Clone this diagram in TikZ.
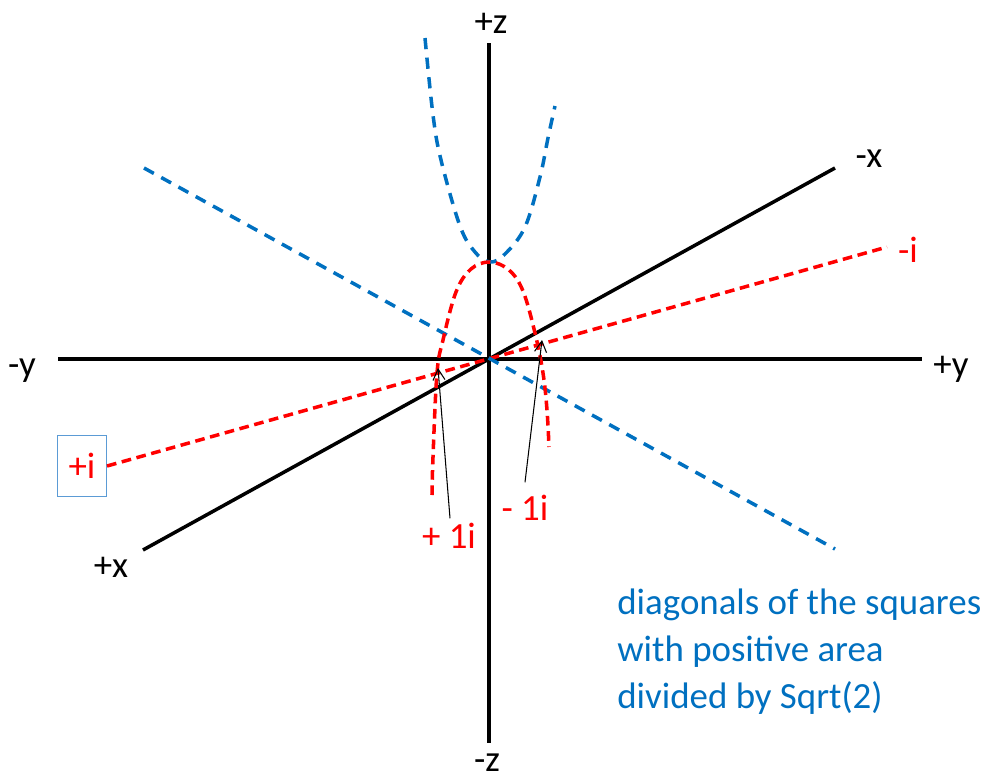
\documentclass[tikz,border=0pt]{standalone}
\usepackage{fontspec}
\setmainfont{Carlito}
\usetikzlibrary{arrows.meta}
\definecolor{imagred}{RGB}{255,0,0}
\definecolor{diagblue}{RGB}{0,112,192}
\definecolor{boxblue}{RGB}{91,155,213}
\tikzset{
  axis/.style={line width=2pt,draw=black},
  imagline/.style={line width=2pt,draw=imagred,dash pattern=on 5.5pt off 3.2pt},
  diagline/.style={line width=2pt,draw=diagblue,dash pattern=on 6.4pt off 4.8pt},
  pointer/.style={-{Straight Barb[length=2.2mm,width=2.4mm]},line width=0.6pt,draw=black},
  axlabel/.style={font=\fontsize{21}{25}\selectfont,inner sep=0pt,anchor=base},
  redlabel/.style={axlabel,text=imagred}
}
\begin{document}
\begin{tikzpicture}[x=0.02cm,y=-0.02cm]
  \useasboundingbox (0,0) rectangle (981,781);
  % axis ends
  \coordinate (O) at (489,359);
  \coordinate (zp) at (489,43);
  \coordinate (zm) at (489,743);
  \coordinate (ym) at (58,359);
  \coordinate (yp) at (922,359);
  \coordinate (xp) at (143,550);
  \coordinate (xm) at (835,168);
  \coordinate (im) at (887,247);
  \coordinate (dtop) at (144,168);
  \coordinate (dbot) at (835,549);

  \node[axlabel] (zplabel) at (491,33) {+z};
  \node[axlabel] (zmlabel) at (487,771) {-z};
  \node[axlabel] (ymlabel) at (22,376) {-y};
  \node[axlabel] (yplabel) at (951,376) {+y};
  \node[axlabel] (xplabel) at (111,577) {+x};
  \node[axlabel] (xmlabel) at (869,167) {-x};
  \node[redlabel] (imlabel) at (908,262) {-i};
  \node[redlabel,anchor=center,draw=boxblue,line width=0.6pt,minimum width=0.98cm,
    minimum height=1.22cm] (ipbox) at (82,466) {+i};
  \node[redlabel] (onep) at (449,548) {+ 1i};
  \node[redlabel] (onem) at (525,520) {- 1i};
  \node[axlabel,anchor=base west,align=left,text=diagblue,
    font=\fontsize{21}{26.5}\selectfont] (note) at (617,708)
    {diagonals of the squares\\with positive area\\divided by Sqrt(2)};

  \draw[axis] (zp) -- (zm);
  \draw[axis] (ym) -- (yp);
  \draw[axis] (xp) -- (xm);
  \draw[imagline] (ipbox.east|-0,466) -- (im);
  \draw[diagline] (dtop) -- (dbot);

  % curves
  \draw[diagline] plot[smooth,tension=0.6] coordinates {(425,38) (433,115) (441,160)
    (460,226) (475,252) (490,262) (505,254) (525,227) (540,177) (548,138) (555,106)};
  \draw[imagline] plot[smooth,tension=0.6] coordinates {(432,495) (433,457) (437,373)
    (443,340) (456,292) (471,269) (490,262) (509,270) (523,291) (535,333) (543,373)
    (547,410) (549,447)};

  \draw[pointer] (onep.north) ++(1,-4) coordinate (tailp) -- (438,368);
  \draw[pointer] (onem.north) ++(0,-12) coordinate (tailm) -- (542,340);
\end{tikzpicture}
\end{document}
